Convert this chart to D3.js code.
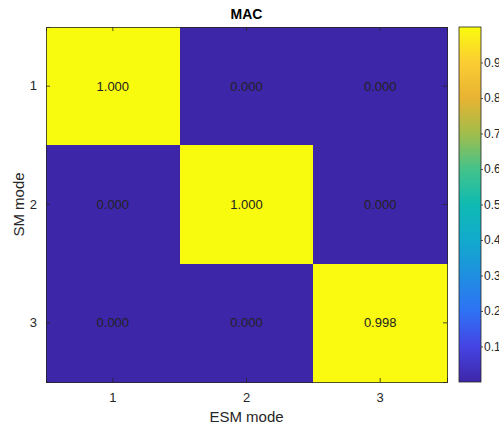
<!DOCTYPE html>
<html>
<head>
<meta charset="utf-8">
<script src="https://cdn.jsdelivr.net/npm/d3@7"></script>
<style>
  body { margin: 0; background: #fff; }
  svg { font-family: "Liberation Sans", Arial, sans-serif; }
</style>
</head>
<body>
<div id="chart"></div>
<script>
// MAC matrix: rows = SM mode, columns = ESM mode
const smModes = [1, 2, 3];
const esmModes = [1, 2, 3];
const macRow1 = [1.000, 0.000, 0.000];
const macRow2 = [0.000, 1.000, 0.000];
const macRow3 = [0.000, 0.000, 0.998];
const colorbarTicks = [0.1, 0.2, 0.3, 0.4, 0.5, 0.6, 0.7, 0.8, 0.9];

// parula-like stops
const parulaStops = ["#3e26a8", "#4544e4", "#2e72f5", "#1f8fe0", "#12aacd", "#0fbab2",
                     "#44c38a", "#a2bd4b", "#e8b332", "#fbcd33", "#f9fb0e"];

const rows = [macRow1, macRow2, macRow3];
const cells = [];
rows.forEach((r, i) => r.forEach((v, j) => cells.push({ sm: smModes[i], esm: esmModes[j], value: v })));

const W = 499, H = 427;
const margin = { top: 27, right: 52, bottom: 45, left: 46 };
const width = 447 - margin.left;
const height = 382 - margin.top;
const axisColor = "#262626";

const svg = d3.select("#chart").append("svg")
    .attr("width", W)
    .attr("height", H);

const g = svg.append("g")
    .attr("transform", `translate(${margin.left},${margin.top})`);

const x = d3.scaleBand().domain(esmModes).range([0, width]);
const y = d3.scaleBand().domain(smModes).range([0, height]);

const extent = d3.extent(cells, d => d.value);
const color = d3.scaleLinear()
    .domain(parulaStops.map((c, i) => extent[0] + (extent[1] - extent[0]) * i / (parulaStops.length - 1)))
    .range(parulaStops)
    .interpolate(d3.interpolateRgb);

// cells
g.selectAll(".cell")
    .data(cells)
    .enter().append("rect")
    .attr("x", d => x(d.esm))
    .attr("y", d => y(d.sm))
    .attr("width", x.bandwidth() + 0.5)
    .attr("height", y.bandwidth() + 0.5)
    .attr("fill", d => color(d.value))
    .attr("shape-rendering", "crispEdges");

// cell labels
g.selectAll(".lbl")
    .data(cells)
    .enter().append("text")
    .attr("x", d => x(d.esm) + x.bandwidth() / 2)
    .attr("y", d => y(d.sm) + y.bandwidth() / 2)
    .attr("dy", "0.35em")
    .attr("text-anchor", "middle")
    .style("font-size", "13px")
    .style("fill", "#222")
    .text(d => d.value.toFixed(3));

// axes (ticks inward, box on)
const xAxis = g.append("g")
    .attr("transform", `translate(0,${height})`)
    .call(d3.axisBottom(x).tickSize(-4).tickPadding(11));
const xTop = g.append("g")
    .call(d3.axisTop(x).tickSize(-4).tickFormat(""));
const yAxis = g.append("g")
    .call(d3.axisLeft(y).tickSize(-4).tickPadding(9));
const yRight = g.append("g")
    .attr("transform", `translate(${width},0)`)
    .call(d3.axisRight(y).tickSize(-4).tickFormat(""));

[xAxis, xTop, yAxis, yRight].forEach(a => {
    a.selectAll("path").attr("stroke", axisColor).attr("stroke-width", 0.8);
    a.selectAll("line").attr("stroke", axisColor).attr("stroke-width", 0.8);
    a.selectAll("text").style("font-size", "13px").style("fill", axisColor)
        .style("font-family", "Liberation Sans, Arial, sans-serif");
});

// axis labels
svg.append("text")
    .attr("x", margin.left + width / 2)
    .attr("y", 422)
    .attr("text-anchor", "middle")
    .style("font-size", "15px")
    .style("fill", axisColor)
    .text("ESM mode");

svg.append("text")
    .attr("transform", `translate(24,${margin.top + height / 2}) rotate(-90)`)
    .attr("text-anchor", "middle")
    .style("font-size", "15px")
    .style("fill", axisColor)
    .text("SM mode");

// title
svg.append("text")
    .attr("x", margin.left + width / 2)
    .attr("y", 19)
    .attr("text-anchor", "middle")
    .style("font-size", "14px")
    .style("font-weight", "bold")
    .style("fill", "#000")
    .text("MAC");

// colorbar
const cbX = 459, cbW = 22;
const cb = svg.append("g").attr("transform", `translate(${cbX},${margin.top})`);
const cbScale = d3.scaleLinear().domain(extent).range([height, 0]);

const grad = svg.append("defs").append("linearGradient")
    .attr("id", "parula")
    .attr("x1", 0).attr("y1", 1).attr("x2", 0).attr("y2", 0);
parulaStops.forEach((c, i) => {
    grad.append("stop")
        .attr("offset", i / (parulaStops.length - 1))
        .attr("stop-color", c);
});

cb.append("rect")
    .attr("width", cbW)
    .attr("height", height)
    .attr("fill", "url(#parula)")
    .attr("stroke", axisColor)
    .attr("stroke-width", 0.8);

const cbAxis = cb.append("g")
    .attr("transform", `translate(${cbW},0)`)
    .call(d3.axisRight(cbScale).tickValues(colorbarTicks).tickSize(2).tickPadding(1)
        .tickFormat(d3.format(".1f")));
cbAxis.select(".domain").remove();
cbAxis.selectAll("line").attr("stroke", axisColor).attr("stroke-width", 0.8);
cbAxis.selectAll("text").style("font-size", "12px").style("fill", axisColor)
    .style("font-family", "Liberation Sans, Arial, sans-serif");
</script>
</body>
</html>
